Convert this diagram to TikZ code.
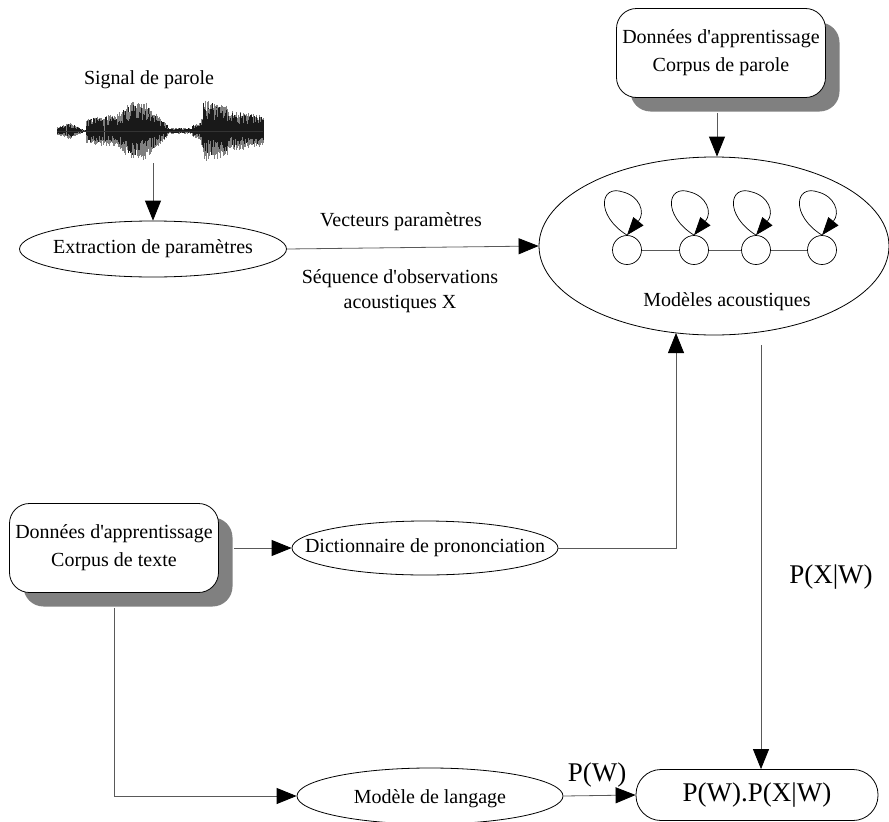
\documentclass[tikz,border=0pt]{standalone}
\usepackage{fontspec}
\setmainfont{Liberation Serif}
\usetikzlibrary{shapes.geometric,arrows.meta,shadows,calc}
\newcommand{\apos}{\textquotesingle}
\begin{document}
\begin{tikzpicture}[x=1pt,y=-1pt,
  every node/.style={font=\fontsize{20}{28}\selectfont, inner sep=0pt},
  ell/.style={ellipse, draw=black, line width=0.8pt, fill=white},
  databox/.style={rectangle, rounded corners=20pt, draw=black, line width=0.8pt,
    fill=white, minimum width=209pt, minimum height=89pt, align=center,
    drop shadow={shadow xshift=14pt, shadow yshift=-14pt, fill=black!50, opacity=1}},
  conn/.style={draw=black!65, line width=0.8pt},
  arr/.style={conn, -{Triangle[length=20pt,width=16pt,color=black]}},
  looparr/.style={draw=black, line width=0.7pt, -{Triangle[length=18pt,width=13pt,color=black]}},
  state/.style={circle, draw=black, line width=0.7pt, minimum size=29pt},
  big/.style={font=\fontsize{27}{32}\selectfont},
]
\useasboundingbox (0,0) rectangle (889,822);

% speech waveform: grey outer trace, dark inner trace
\pgfmathsetseed{11}
\foreach \xa/\xb/\aa/\ab in {57/70/4/9, 70/82/9/2, 82/86/1/1, 86/117/13/17,
    117/132/17/30, 132/148/30/28, 148/167/26/7, 167/192/3/3, 192/200/6/9,
    200/203/9/24, 203/227/31/27, 227/263/21/16}{
  \pgfmathtruncatemacro\n{(\xb-\xa)/0.8}
  \foreach \k in {0,...,\n}{
    \pgfmathsetmacro\xx{\xa+(\xb-\xa)*\k/\n}
    \pgfmathsetmacro\amp{\aa+(\ab-\aa)*\k/\n}
    \pgfmathsetmacro\hu{\amp*(0.65+0.35*rnd)}
    \pgfmathsetmacro\hd{\amp*(0.65+0.35*rnd)}
    \draw[black!50, line width=0.55pt] (\xx,131-\hu) -- (\xx,131+\hd);
    \pgfmathsetmacro\hu{\amp*(0.35+0.6*rnd)}
    \pgfmathsetmacro\hd{\amp*(0.3+0.5*rnd)}
    \draw[black!90, line width=0.5pt] (\xx,131-\hu) -- (\xx,131+\hd);
  }
}
\draw[black!80, line width=0.7pt] (57,131) -- (263,131);

\node (sig) at (149,80) {Signal de parole};
\coordinate (wavebot) at (153,163);

% feature extraction
\node[ell, minimum width=267pt, minimum height=56pt,
  label=center:{Extraction de paramètres}] (extr) at (153,249) {};

% acoustic models with an HMM chain inside
\node[ell, minimum width=350pt, minimum height=178pt] (acou) at (714,246) {};
\node (acoulbl) at (727,302) {Modèles acoustiques};
\foreach \cx [count=\i] in {627,694,756,822}{
  \node[state] (s\i) at (\cx,250) {};
  \draw[looparr] (s\i.north) .. controls ({\cx-32},215) and ({\cx-27},184) .. ({\cx-4},192)
    .. controls ({\cx+12},196) and ({\cx+19},212) .. (s\i.north);
}
\foreach \a/\b in {1/2,2/3,3/4}{
  \draw[conn] (s\a) -- (s\b);
}

% training data
\node[databox] (parole) at (721,53) {Données d\apos apprentissage\\Corpus de parole};
\node[databox] (texte) at (114,548) {Données d\apos apprentissage\\Corpus de texte};

% lexicon and language model
\node[ell, minimum width=266pt, minimum height=54pt,
  label=center:{Dictionnaire de prononciation}] (dict) at (425,548) {};
\node[ell, minimum width=266pt, minimum height=56pt,
  label={[yshift=-3pt]center:{Modèle de langage}}] (lang) at (430,796) {};

% decision
\node[rectangle, rounded corners=25pt, draw=black, line width=0.8pt,
  minimum width=242pt, minimum height=51pt, big] (prod) at (757,795) {P(W).P(X|W)};

% edge labels
\node (vec) at (401,222) {Vecteurs paramètres};
\node[align=center, font=\fontsize{20}{25}\selectfont] (seq) at (400,291) {Séquence d\apos observations\\acoustiques X};
\node[big] (pxw) at (831,577) {P(X|W)};
\node[big] (pw) at (597,775) {P(W)};

% connectors
\coordinate (acouin) at (676,333);
\coordinate (likeout) at (761,345);
\coordinate (texteout) at ($(texte.south)+(0,15)$);
\coordinate (texteright) at ($(texte.east)+(15,0)$);
\coordinate (paroleout) at ($(parole.south)+(-4,15)$);
\draw[arr] (wavebot) -- (extr.north);
\draw[arr] (extr.east) -- (acou.west);
\draw[arr] (paroleout) -- (paroleout |- acou.north);
\draw[arr] (texteright) -- (texteright -| dict.west);
\draw[arr] (dict.east) -| (acouin);
\draw[arr] (likeout) -- (likeout |- prod.north);
\draw[arr] (texteout) |- (lang.west);
\draw[arr] (lang.east) -- (prod.west);
\end{tikzpicture}
\end{document}
